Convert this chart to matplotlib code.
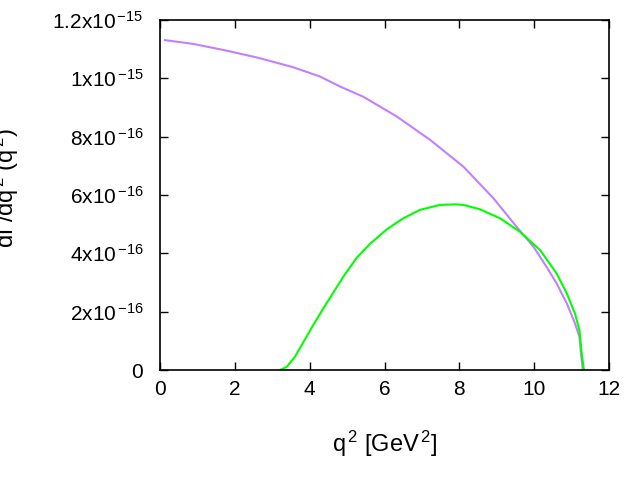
import numpy as np
import matplotlib
matplotlib.use("Agg")
import matplotlib.pyplot as plt

plt.rcParams['font.family'] = ['Liberation Sans', 'DejaVu Sans']
plt.rcParams['mathtext.fontset'] = 'custom'
plt.rcParams['mathtext.rm'] = 'Liberation Sans'
plt.rcParams['mathtext.it'] = 'Liberation Sans'
plt.rcParams['mathtext.default'] = 'regular'

###
### Data, q^2 in GeV^2, rate in units of 1e-15
###
q2_a = [0.13, 0.89, 1.78, 2.67, 3.56, 4.28, 4.81, 5.43, 6.33, 7.22, 8.11,
        8.91, 9.53, 9.98, 10.33, 10.60, 10.87, 11.09, 11.21, 11.25, 11.30]
rate_a = [1.131, 1.118, 1.095, 1.069, 1.038, 1.006, 0.972, 0.937, 0.869,
          0.789, 0.697, 0.589, 0.491, 0.423, 0.354, 0.297, 0.229, 0.160,
          0.114, 0.057, 0.0]

q2_b = [3.21, 3.39, 3.61, 3.83, 4.10, 4.36, 4.63, 4.90, 5.26, 5.61, 6.06,
        6.50, 6.95, 7.48, 7.90, 8.11, 8.55, 9.09, 9.62, 10.16, 10.60, 10.87,
        11.09, 11.21, 11.27, 11.33]
rate_b = [0.0, 0.011, 0.046, 0.095, 0.155, 0.210, 0.265, 0.320, 0.385,
          0.432, 0.482, 0.520, 0.549, 0.566, 0.568, 0.566, 0.551, 0.520,
          0.474, 0.411, 0.331, 0.263, 0.194, 0.137, 0.057, 0.0]

xticks = [0, 2, 4, 6, 8, 10, 12]
yticks = [0, 0.2, 0.4, 0.6, 0.8, 1.0, 1.2]
ytick_labels = ['0', r'2x10$^{\,{-16}}$', r'4x10$^{\,{-16}}$',
                r'6x10$^{\,{-16}}$', r'8x10$^{\,{-16}}$',
                r'1x10$^{\,{-15}}$', r'1.2x10$^{\,{-15}}$']

fig = plt.figure(figsize=(6.4, 4.8), dpi=100)
ax = fig.add_axes([160/640, 1 - 370/480, 449/640, 350/480])

ax.plot(q2_a, rate_a, color='#c080ff', lw=1.5, solid_joinstyle='round')
ax.plot(q2_b, rate_b, color='#00ff00', lw=1.5, solid_joinstyle='round')

ax.set_xlim(0, 12)
ax.set_ylim(0, 1.2)
ax.set_xticks(xticks)
ax.set_xticklabels([str(t) for t in xticks])
ax.set_yticks(yticks)
ax.set_yticklabels(ytick_labels)

ax.tick_params(direction='in', length=6, width=1, labelsize=15,
               top=True, right=True, pad=7)
ax.tick_params(axis='y', pad=12)
for sp in ax.spines.values():
    sp.set_linewidth(1.2)

ax.set_xlabel(r'q$^{\,2}$ [GeV$^{\,2}$]', fontsize=17, labelpad=22)
fig.text(-0.015, 1 - 188/480, r'd$\Gamma$/dq$^{\,2}$ (q$^{\,2}$)',
         rotation=90, fontsize=17, ha='left', va='center')

fig.savefig('out.png', dpi=100)
